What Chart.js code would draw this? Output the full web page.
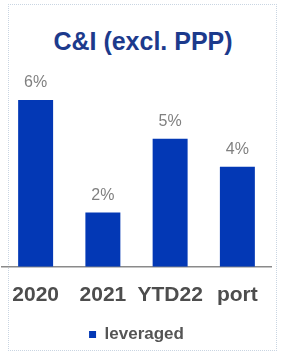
<!DOCTYPE html>
<html>
<head>
<meta charset="utf-8">
<script src="https://cdn.jsdelivr.net/npm/chart.js@4/dist/chart.umd.min.js"></script>
<style>
  body { margin: 0; background: #ffffff; overflow: hidden; }
  #marco {
    position: absolute; left: 0; top: 0; width: 282px; height: 353px; overflow: hidden;
  }
  #borde {
    position: absolute; left: 8px; top: 4px; width: 267px; height: 345px;
    border: 1px dotted #c9d5e2; pointer-events: none;
  }
  #titulo {
    position: absolute; left: 8px; top: 26px; width: 270px; text-align: center;
    font: bold 25px "Liberation Sans", Arial, sans-serif; color: #1c3a8c;
    line-height: 30px;
  }
  canvas { position: absolute; left: 0; top: 0; }
</style>
</head>
<body>
<div id="marco">
  <div id="borde"></div>
  <div id="titulo">C&amp;I (excl. PPP)</div>
  <canvas id="grafico" width="282" height="353"></canvas>
</div>
<script>
// Datos
const categorias = ['2020', '2021', 'YTD22', 'port'];
const valores = [6.0, 1.95, 4.6, 3.6];
const serie = 'leveraged';

// Plugin sencillo para las etiquetas encima de las barras
const etiquetasBarras = {
    id: 'etiquetasBarras',
    afterDatasetsDraw(chart) {
        const ctx = chart.ctx;
        const meta = chart.getDatasetMeta(0);
        ctx.save();
        ctx.font = '16px "Liberation Sans", Arial, sans-serif';
        ctx.fillStyle = '#808080';
        ctx.textAlign = 'center';
        ctx.textBaseline = 'middle';
        meta.data.forEach(function (barra, i) {
            ctx.fillText(Math.round(valores[i]) + '%', barra.x, barra.y - 17);
        });
        ctx.restore();
    }
};

const ctx = document.getElementById('grafico').getContext('2d');
new Chart(ctx, {
    type: 'bar',
    data: {
        labels: categorias,
        datasets: [{
            label: serie,
            data: valores,
            backgroundColor: '#0338b5',
            borderWidth: 0,
            categoryPercentage: 1,
            barPercentage: 0.52
        }]
    },
    options: {
        responsive: false,
        animation: false,
        layout: { padding: { left: 2, right: 11, top: 54, bottom: 0 } },
        plugins: {
            title: { display: false },
            legend: {
                position: 'bottom',
                labels: {
                    boxWidth: 7,
                    boxHeight: 7,
                    color: '#555555',
                    font: { family: '"Liberation Sans", Arial, sans-serif', size: 17, weight: 'bold' },
                    padding: 10
                }
            },
            tooltip: { enabled: false }
        },
        scales: {
            x: {
                grid: { display: false },
                border: { display: true, color: '#8a8a8a', width: 1.5 },
                ticks: {
                    color: '#4d4d4d',
                    font: { family: '"Liberation Sans", Arial, sans-serif', size: 21, weight: 'bold' },
                    padding: 8,
                    maxRotation: 0,
                    minRotation: 0,
                    autoSkip: false
                }
            },
            y: {
                display: false,
                min: 0,
                max: 7.65
            }
        }
    },
    plugins: [etiquetasBarras]
});
</script>
</body>
</html>
